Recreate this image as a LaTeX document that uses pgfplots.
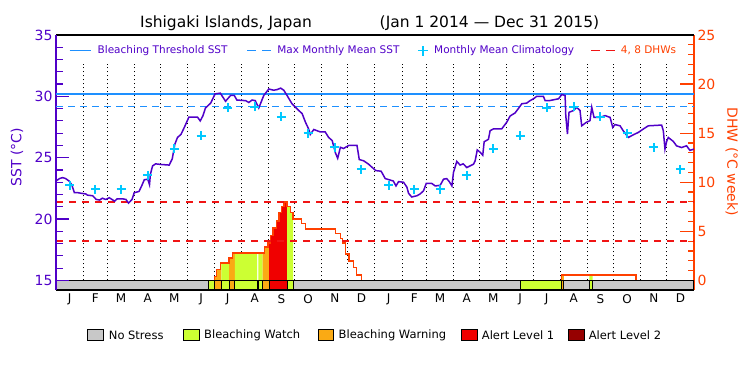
\documentclass[border=0pt]{standalone}
\usepackage{fontspec}
\setmainfont{DejaVu Sans}
\usepackage{pgfplots}
\pgfplotsset{compat=1.18}
\definecolor{sstcol}{RGB}{80,0,200}
\definecolor{dhwcol}{RGB}{255,64,0}
\definecolor{thrcol}{RGB}{30,144,255}
\definecolor{climcol}{RGB}{0,200,255}
\definecolor{dhwline}{RGB}{240,20,20}
\definecolor{nostress}{RGB}{200,200,200}
\definecolor{watch}{RGB}{204,255,51}
\definecolor{warning}{RGB}{250,170,20}
\definecolor{alertone}{RGB}{240,0,0}
\definecolor{alerttwo}{RGB}{150,0,0}
\begin{document}
\begin{tikzpicture}
\path[use as bounding box] (0,0) rectangle (750pt,375pt);
% ---------------- DHW axis (right) ----------------
\begin{axis}[
  at={(56pt,85pt)}, anchor=south west, scale only axis,
  width=638pt, height=255pt,
  xmin=0, xmax=730, ymin=-0.975, ymax=25,
  axis x line=none, axis y line*=right,
  y axis line style={dhwcol, line width=1.2pt, -},
  ytick={0,5,10,15,20,25}, minor y tick num=4,
  ytick align=inside,
  major tick length=14pt, minor tick length=6pt,
  y tick style={dhwcol, line width=1.2pt},
  yticklabel style={dhwcol, font=\fontsize{14}{14}\selectfont},
  /pgf/number format/assume math mode=true,
  unbounded coords=jump,
]
% month boundary dotted lines
\addplot[black, line width=1pt, dash pattern=on 1pt off 3pt, forget plot] coordinates {
(31,0)(31,22.08)(31,nan)(59,0)(59,22.08)(59,nan)(90,0)(90,22.08)(90,nan)
(120,0)(120,22.08)(120,nan)(151,0)(151,22.08)(151,nan)(181,0)(181,22.08)(181,nan)
(212,0)(212,22.08)(212,nan)(243,0)(243,22.08)(243,nan)(273,0)(273,22.08)(273,nan)
(304,0)(304,22.08)(304,nan)(334,0)(334,22.08)(334,nan)(365,0)(365,22.08)(365,nan)
(396,0)(396,22.08)(396,nan)(424,0)(424,22.08)(424,nan)(455,0)(455,22.08)(455,nan)
(485,0)(485,22.08)(485,nan)(516,0)(516,22.08)(516,nan)(546,0)(546,22.08)(546,nan)
(577,0)(577,22.08)(577,nan)(608,0)(608,22.08)(608,nan)(638,0)(638,22.08)(638,nan)
(669,0)(669,22.08)(669,nan)(699,0)(699,22.08)};
% stress-coloured DHW fills
\addplot[const plot, fill=warning, draw=none, forget plot] coordinates {(181,0)(181,0.4)(183.6,1.1)(188.2,1.76)(189.3,1.76)(189.3,0)} -- cycle;
\addplot[const plot, fill=watch, draw=none, forget plot] coordinates {(189.3,0)(189.3,1.76)(198,1.76)(198,0)} -- cycle;
\addplot[const plot, fill=warning, draw=none, forget plot] coordinates {(198,0)(198,2.27)(202,2.8)(204.6,2.8)(204.6,0)} -- cycle;
\addplot[const plot, fill=watch, draw=none, forget plot] coordinates {(204.6,0)(204.6,2.8)(230,2.8)(230,0)} -- cycle;
\addplot[const plot, fill=watch, draw=none, forget plot] coordinates {(231.6,0)(231.6,2.8)(236.5,2.8)(236.5,0)} -- cycle;
\addplot[const plot, fill=warning, draw=none, forget plot] coordinates {(236.5,0)(236.5,2.8)(238.8,3.4)(242.6,3.8)(243.8,3.8)(243.8,0)} -- cycle;
\addplot[const plot, fill=alertone, draw=none, forget plot] coordinates {(243.8,0)(243.8,3.8)(245.3,4.56)(248.4,5.35)(252.2,6.04)(255.2,6.9)(257.9,7.5)(261,8.0)(264.4,8.0)(264.4,0)} -- cycle;
\addplot[const plot, fill=watch, draw=none, forget plot] coordinates {(264.4,0)(264.4,7.5)(268,6.95)(271.2,6.95)(271.2,0)} -- cycle;
\addplot[const plot, fill=warning, draw=none, forget plot] coordinates {(578.7,0)(578.7,0.55)(581,0.55)(581,0)} -- cycle;
\addplot[const plot, fill=watch, draw=none, forget plot] coordinates {(610.3,0)(610.3,0.55)(614,0.55)(614,0)} -- cycle;
% DHW curve
\addplot[const plot, dhwcol, line width=1.3pt, forget plot] coordinates {
(0,0)(181,0.4)(183.6,1.1)(188.2,1.76)(198,2.27)(202,2.8)(238.8,3.4)(242.6,3.8)
(245.3,4.56)(248.4,5.35)(252.2,6.04)(255.2,6.9)(257.9,7.5)(261,8.0)(264.4,7.5)
(268,6.95)(271.2,6.27)(280.8,5.8)(285.7,5.25)(320,4.77)(325.3,4.3)(327.6,3.8)
(331.4,2.7)(335.2,1.98)(340.6,1.33)(343.6,0.55)(349.3,0)(578.7,0.55)(663.6,0)(730,0)};
% stress band
\addplot[fill=nostress, draw=black, line width=1pt, forget plot] coordinates {(0,-3)(0,0)(730,0)(730,-3)} -- cycle;
\addplot[fill=watch, draw=black, line width=1pt, forget plot] coordinates {(174.1,-3)(174.1,0)(181,0)(181,-3)} -- cycle;
\addplot[fill=warning, draw=black, line width=1pt, forget plot] coordinates {(181,-3)(181,0)(189.3,0)(189.3,-3)} -- cycle;
\addplot[fill=watch, draw=black, line width=1pt, forget plot] coordinates {(189.3,-3)(189.3,0)(198,0)(198,-3)} -- cycle;
\addplot[fill=warning, draw=black, line width=1pt, forget plot] coordinates {(198,-3)(198,0)(204.6,0)(204.6,-3)} -- cycle;
\addplot[fill=watch, draw=black, line width=1pt, forget plot] coordinates {(204.6,-3)(204.6,0)(230,0)(230,-3)} -- cycle;
\addplot[fill=watch, draw=black, line width=1pt, forget plot] coordinates {(231.6,-3)(231.6,0)(236.5,0)(236.5,-3)} -- cycle;
\addplot[fill=warning, draw=black, line width=1pt, forget plot] coordinates {(236.5,-3)(236.5,0)(243.8,0)(243.8,-3)} -- cycle;
\addplot[fill=alertone, draw=black, line width=1pt, forget plot] coordinates {(243.8,-3)(243.8,0)(264.4,0)(264.4,-3)} -- cycle;
\addplot[fill=watch, draw=black, line width=1pt, forget plot] coordinates {(264.4,-3)(264.4,0)(271.2,0)(271.2,-3)} -- cycle;
\addplot[fill=watch, draw=black, line width=1pt, forget plot] coordinates {(531,-3)(531,0)(578.7,0)(578.7,-3)} -- cycle;
\addplot[fill=warning, draw=black, line width=1pt, forget plot] coordinates {(578.7,-3)(578.7,0)(581,0)(581,-3)} -- cycle;
\addplot[fill=watch, draw=black, line width=1pt, forget plot] coordinates {(610.3,-3)(610.3,0)(614,0)(614,-3)} -- cycle;
% 4 and 8 DHW levels
\addplot[color=dhwline, line width=1.6pt, dash pattern=on 7pt off 6pt, forget plot] coordinates {(0,4)(730,4)};
\addplot[color=dhwline, line width=1.6pt, dash pattern=on 7pt off 6pt, forget plot] coordinates {(0,8)(730,8)};
\end{axis}
% ---------------- SST axis (left) ----------------
\begin{axis}[
  at={(56pt,85pt)}, anchor=south west, scale only axis,
  width=638pt, height=255pt,
  xmin=0, xmax=730, ymin=14.22, ymax=35,
  axis x line=box, axis y line*=left,
  x axis line style={black, line width=1.2pt, -},
  y axis line style={sstcol, line width=1.2pt, -},
  ytick={15,20,25,30,35}, minor y tick num=4, ytick align=inside,
  major tick length=13pt, minor tick length=7pt,
  y tick style={sstcol, line width=1.2pt},
  yticklabel style={sstcol, font=\fontsize{14}{14}\selectfont},
  xtick={15.5,45,74.5,105,135.5,166,196.5,227.5,258,288.5,319,349.5,380.5,410,439.5,470,500.5,531,561.5,592.5,623,653.5,684,714.5},
  xticklabels={J,F,M,A,M,J,J,A,S,O,N,D,J,F,M,A,M,J,J,A,S,O,N,D},
  x tick style={draw=none},
  xticklabel style={black, font=\fontsize{12}{12}\selectfont, anchor=north, inner sep=0pt, yshift=-4pt},
  /pgf/number format/assume math mode=true,
  legend columns=4,
  legend cell align=left,
  legend style={at={(axis description cs:0.0204,0.939)}, anchor=west, draw=none, fill=none,
    inner sep=0pt, outer sep=0pt, nodes={inner sep=0pt, outer sep=0pt}, column sep=0pt,
    font=\fontsize{10.5}{13}\selectfont},
]
\addplot[thrcol, line width=1.3pt, forget plot] coordinates {(0,30.18)(730,30.18)};
\addplot[thrcol, line width=1.3pt, dash pattern=on 7pt off 5pt, forget plot] coordinates {(0,29.18)(730,29.18)};
\addplot[climcol, only marks, mark=+, mark size=4.5pt, line width=2pt, forget plot] coordinates {
(15.5,22.75)(45,22.42)(74.5,22.42)(105,23.57)(135.5,25.75)(166,26.79)(196.5,29.06)(227.5,29.16)(258,28.34)(288.5,26.98)(319,25.84)(349.5,24.05)
(380.5,22.75)(410,22.42)(439.5,22.42)(470,23.57)(500.5,25.75)(531,26.79)(561.5,29.06)(592.5,29.16)(623,28.34)(653.5,26.98)(684,25.84)(714.5,24.05)};
\addplot[sstcol, line width=1.5pt, forget plot] coordinates {
(0,23.1)(4,23.3)(7.6,23.38)(11,23.3)(15,23.1)(18,22.8)(21,22.15)(25,22.15)(29,22.1)(34,22.05)(36,21.95)(42,21.9)
(46,21.6)(50,21.55)(53,21.7)(57,21.6)(61,21.74)(64,21.6)(67,21.46)(70,21.65)(76,21.65)(80,21.6)(83,21.3)(87,21.6)
(89.5,22.15)(95,22.25)(98,22.7)(101,23.2)(105,23.25)(107,22.8)(108,23.65)(110.5,24.33)(114,24.5)(120,24.45)(129.5,24.4)
(133,24.9)(136,26.1)(139,26.65)(143,26.9)(147,27.5)(152,28.3)(162,28.3)(165,28.0)(168,28.4)(171,29.05)(177,29.45)
(182,30.2)(188,30.26)(194,29.6)(199.7,30.07)(204,30.07)(207,29.7)(217,29.65)(220.6,29.5)(224.4,29.7)(228,29.65)
(232,29.05)(237.7,30.07)(243.5,30.6)(249,30.5)(253,30.55)(257,30.67)(260.6,30.5)(264.4,30.07)(270,29.4)(277.7,28.85)
(281.6,28.6)(285.4,27.9)(289,27.35)(291,26.9)(295,27.3)(302.5,27.1)(308,27.1)(312,26.65)(316,26.4)(319.7,25.4)
(322.3,24.95)(325.4,25.85)(329,25.75)(335,26.0)(344.4,26.0)(347,24.85)(352,24.75)(357.7,24.47)(363.5,24.1)
(366,23.95)(372,23.9)(376.7,23.3)(386,23.1)(389,22.7)(392,23.05)(397.7,23.0)(401.5,22.6)(403.4,22.1)(407,21.8)
(413,21.9)(416.7,22.05)(420.5,22.3)(423.6,22.9)(430,22.9)(433.9,22.7)(439.6,22.75)(443.4,23.25)(447,23.3)(450,23.05)
(453,22.7)(454.8,23.8)(458.6,24.7)(462.4,24.4)(466,24.5)(470,24.2)(477.7,24.47)(479.6,24.75)(482,25.63)(485.3,25.45)
(488.3,25.2)(489.9,26.3)(494.8,26.5)(496.7,27.2)(500.5,27.35)(510,27.35)(515.8,27.9)(519.6,28.4)(525.3,28.65)(529,29.0)
(533,29.4)(538.6,29.45)(542.4,29.65)(546.3,29.8)(550,30.0)(557.7,30.0)(559.6,29.66)(565,29.66)(575,29.8)(578.7,30.15)
(582.5,30.07)(583.3,28.43)(585.2,26.93)(587,28.7)(592,28.84)(595.8,29.11)(599.6,28.84)(601.5,27.6)(607,27.89)(611,28.02)
(613,29.11)(615.6,28.29)(622.5,28.29)(628.2,28.43)(634,28.29)(637,27.47)(639.6,27.7)(645.4,27.6)(649,27.2)(654.9,26.65)
(660.6,26.87)(666.3,27.06)(672,27.34)(677.7,27.6)(693,27.66)(694.9,27.2)(696.8,25.7)(698.7,26.33)(700.6,26.65)(706.3,26.33)
(710,25.97)(715.8,25.83)(721.5,25.97)(725.3,25.6)(730,25.7)};
\addlegendimage{legend image code/.code={\path[draw=none,fill=none] (0pt,-3pt) rectangle (28pt,3pt); \draw[thrcol, line width=1.3pt] (0pt,0pt) -- (21pt,0pt);}}
\addlegendentry{\makebox[149pt][l]{\textcolor{sstcol}{Bleaching Threshold SST}}}
\addlegendimage{legend image code/.code={\path[draw=none,fill=none] (0pt,-3pt) rectangle (30pt,3pt); \draw[thrcol, line width=1.3pt, dash pattern=on 9pt off 6pt] (0pt,0pt) -- (24pt,0pt);}}
\addlegendentry{\makebox[140pt][l]{\textcolor{sstcol}{Max Monthly Mean SST}}}
\addlegendimage{legend image code/.code={\path[draw=none,fill=none] (0pt,-3pt) rectangle (16pt,3pt); \draw[climcol, line width=1.8pt] (0pt,0pt) -- (10pt,0pt) (5pt,-5pt) -- (5pt,5pt);}}
\addlegendentry{\makebox[156pt][l]{\textcolor{sstcol}{Monthly Mean Climatology}}}
\addlegendimage{legend image code/.code={\path[draw=none,fill=none] (0pt,-3pt) rectangle (30pt,3pt); \draw[dhwline, line width=1.5pt, dash pattern=on 9pt off 6pt] (0pt,0pt) -- (24pt,0pt);}}
\addlegendentry{\makebox[62pt][l]{\textcolor{dhwcol}{4, 8 DHWs}}}
\node[font=\fontsize{12}{12}\selectfont] at (axis cs:182.5,14.22) [yshift=-24pt] {2014};
\node[font=\fontsize{12}{12}\selectfont] at (axis cs:547.5,14.22) [yshift=-24pt] {2015};
\end{axis}
% titles and labels
\node[font=\fontsize{15.5}{15.5}\selectfont, inner sep=0pt] at (226pt,352pt) {Ishigaki Islands, Japan};
\node[font=\fontsize{15.5}{15.5}\selectfont, inner sep=0pt] at (489.5pt,352pt) {(Jan 1 2014 — Dec 31 2015)};
\node[font=\fontsize{14}{14}\selectfont, text=sstcol, rotate=90, inner sep=0pt] at (17pt,218pt) {SST (°C)};
\node[font=\fontsize{14}{14}\selectfont, text=dhwcol, rotate=-90, inner sep=0pt] at (731.7pt,213.3pt) {DHW (°C week)};
% bottom legend
\begin{scope}[font=\fontsize{11.5}{11.5}\selectfont]
\filldraw[fill=nostress, draw=black, line width=1pt] (87pt,34.5pt) rectangle (103.4pt,45.5pt);
\node[anchor=west, inner sep=0pt] at (108.7pt,40pt) {No Stress};
\filldraw[fill=watch, draw=black, line width=1pt] (183.7pt,34.5pt) rectangle (199.5pt,45.5pt);
\node[anchor=west, inner sep=0pt] at (204pt,40pt) {Bleaching Watch};
\filldraw[fill=warning, draw=black, line width=1pt] (318pt,34.5pt) rectangle (333.5pt,45.5pt);
\node[anchor=west, inner sep=0pt] at (338.5pt,40pt) {Bleaching Warning};
\filldraw[fill=alertone, draw=black, line width=1pt] (461pt,34.5pt) rectangle (477pt,45.5pt);
\node[anchor=west, inner sep=0pt] at (481.7pt,40pt) {Alert Level 1};
\filldraw[fill=alerttwo, draw=black, line width=1pt] (568.5pt,34.5pt) rectangle (584pt,45.5pt);
\node[anchor=west, inner sep=0pt] at (588.6pt,40pt) {Alert Level 2};
\end{scope}
\end{tikzpicture}
\end{document}
